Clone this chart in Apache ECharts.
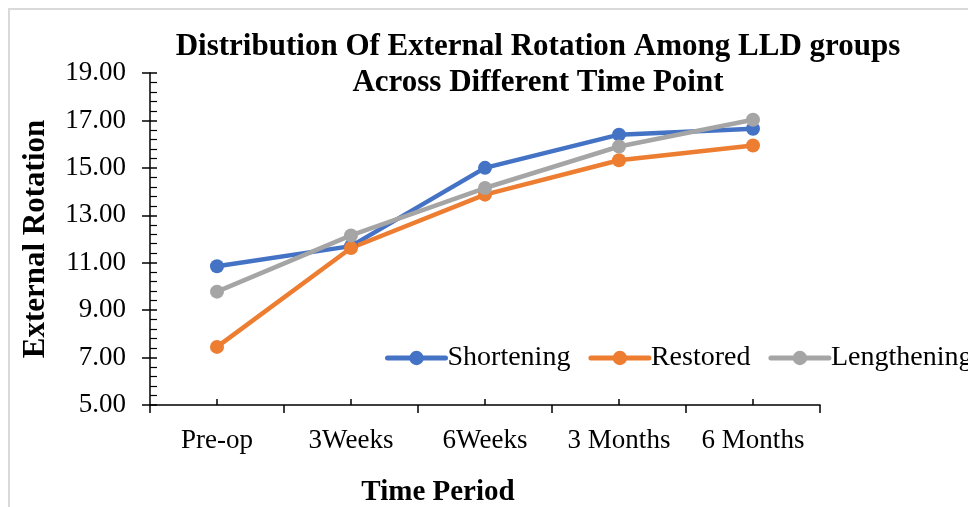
<!DOCTYPE html>
<html>
<head>
<meta charset="utf-8">
<script src="https://cdn.jsdelivr.net/npm/echarts@6/dist/echarts.min.js"></script>
<style>
  html, body { margin: 0; padding: 0; background: #fff; }
  #chart { width: 968px; height: 507px; }
</style>
</head>
<body>
<div id="chart"></div>
<script>
// Time points and mean external rotation per LLD group
const categories = ['Pre-op', '3Weeks', '6Weeks', '3 Months', '6 Months'];
const shortening = [10.85, 11.70, 15.00, 16.40, 16.65];
const restored = [7.45, 11.62, 13.87, 15.32, 15.94];
const lengthening = [9.78, 12.15, 14.15, 15.90, 17.03];
const yMin = 5;
const yMax = 19;
const yStep = 2;

const serif = '"Liberation Serif", "Times New Roman", serif';
const colors = ['#4472C4', '#ED7D31', '#A5A5A5'];

const chart = echarts.init(document.getElementById('chart'), null, { renderer: 'canvas' });

function lineSeries(name, data, color) {
  return {
    name: name,
    type: 'line',
    data: data,
    xAxisIndex: 0,
    yAxisIndex: 0,
    symbol: 'circle',
    symbolSize: 14,
    lineStyle: { color: color, width: 4.5 },
    itemStyle: { color: color },
    emphasis: { disabled: true },
    animation: false
  };
}

chart.setOption({
  animation: false,
  backgroundColor: '#fff',
  color: colors,
  title: {
    text: 'Distribution Of External Rotation Among LLD groups\nAcross Different Time Point',
    left: 538,
    top: 29,
    textAlign: 'center',
    padding: 0,
    textStyle: {
      fontFamily: serif,
      fontWeight: 'bold',
      fontSize: 31,
      lineHeight: 36,
      color: '#000'
    }
  },
  legend: {
    data: ['Shortening', 'Restored', 'Lengthening'],
    orient: 'horizontal',
    left: 385,
    top: 344,
    width: 800,
    itemWidth: 58,
    itemHeight: 18,
    itemGap: 18,
    padding: 0,
    lineStyle: { width: 5, cap: 'round' },
    textStyle: { fontFamily: serif, fontSize: 28, color: '#000', padding: [0, 0, 0, -3] }
  },
  grid: { left: 150, right: 148, top: 73, bottom: 102, outerBoundsMode: 'none' },
  xAxis: [
    {
      type: 'category',
      data: categories,
      boundaryGap: true,
      axisLine: { show: true, lineStyle: { color: '#000', width: 1.5 } },
      axisTick: { show: true, inside: false, length: 8, alignWithLabel: false, lineStyle: { color: '#000', width: 1.5 } },
      axisLabel: { fontFamily: serif, fontSize: 27, color: '#000', margin: 22 },
      splitLine: { show: false },
      name: 'Time Period',
      nameLocation: 'middle',
      nameGap: 73,
      nameTextStyle: { fontFamily: serif, fontWeight: 'bold', fontSize: 29, color: '#000', padding: [0, 94, 0, 0] }
    },
    {
      type: 'category',
      data: categories,
      position: 'bottom',
      boundaryGap: true,
      axisLine: { show: false },
      axisTick: { show: true, inside: true, length: 6, alignWithLabel: true, lineStyle: { color: '#000', width: 1.5 } },
      axisLabel: { show: false },
      splitLine: { show: false }
    }
  ],
  yAxis: [
    {
      type: 'value',
      min: yMin,
      max: yMax,
      interval: yStep,
      axisLine: { show: true, lineStyle: { color: '#000', width: 1.5 } },
      axisTick: { show: true, inside: true, length: 7, lineStyle: { color: '#000', width: 1.5 } },
      minorTick: { show: true, splitNumber: 5, length: 7, lineStyle: { color: '#000', width: 1.2 } },
      axisLabel: {
        fontFamily: serif, fontSize: 27, color: '#000', margin: 24,
        formatter: v => v.toFixed(2)
      },
      splitLine: { show: false },
      name: 'External Rotation',
      nameLocation: 'middle',
      nameGap: 99,
      nameRotate: 90,
      nameTextStyle: { fontFamily: serif, fontWeight: 'bold', fontSize: 31, color: '#000' }
    },
    {
      type: 'value',
      min: yMin,
      max: yMax,
      interval: yStep,
      position: 'left',
      axisLine: { show: false },
      axisTick: { show: true, inside: false, length: 8, lineStyle: { color: '#000', width: 1.5 } },
      axisLabel: { show: false },
      splitLine: { show: false }
    }
  ],
  graphic: [
    {
      type: 'rect',
      silent: true,
      shape: { x: 9, y: 9, width: 1000, height: 600 },
      style: { fill: 'none', stroke: '#d9d9d9', lineWidth: 2 }
    }
  ],
  series: [
    lineSeries('Shortening', shortening, colors[0]),
    lineSeries('Restored', restored, colors[1]),
    lineSeries('Lengthening', lengthening, colors[2])
  ]
});
</script>
</body>
</html>
